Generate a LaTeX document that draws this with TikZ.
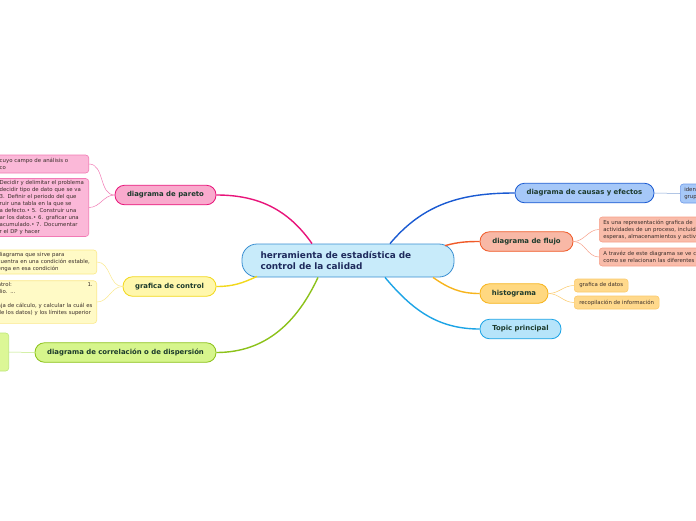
\documentclass[tikz,border=0pt]{standalone}
\usepackage{fontspec}
\setmainfont{DejaVu Sans}
\usepackage{tikz}
\usetikzlibrary{calc}
\definecolor{hubfill}{HTML}{C8EBFA}
\definecolor{hubline}{HTML}{3A8FD2}
\definecolor{hubtext}{HTML}{1E2A5C}
\definecolor{toptext}{HTML}{1C3A2C}
\definecolor{leaftext}{HTML}{3A2E2A}
\definecolor{parline}{HTML}{E8147A}
\definecolor{parfill}{HTML}{F9AACD}
\definecolor{parleaf}{HTML}{FBB8D8}
\definecolor{parleafline}{HTML}{F27AB5}
\definecolor{conline}{HTML}{F2D81C}
\definecolor{confill}{HTML}{FFF7AC}
\definecolor{conleaf}{HTML}{FFFAC6}
\definecolor{conleafline}{HTML}{FBE98A}
\definecolor{corline}{HTML}{8CC21A}
\definecolor{corfill}{HTML}{D6F58C}
\definecolor{corleaf}{HTML}{DCF796}
\definecolor{corleafline}{HTML}{BDE87A}
\definecolor{cauline}{HTML}{1A5AD2}
\definecolor{caufill}{HTML}{A6C8F8}
\definecolor{cauleafline}{HTML}{6F9AE8}
\definecolor{cautwig}{HTML}{8AA8D8}
\definecolor{fluline}{HTML}{F05A28}
\definecolor{flufill}{HTML}{F8B8A6}
\definecolor{fluleaf}{HTML}{F9BCAA}
\definecolor{fluleafline}{HTML}{F7A08A}
\definecolor{hisline}{HTML}{F7B41C}
\definecolor{hisfill}{HTML}{FFD880}
\definecolor{hisleaf}{HTML}{FFD98C}
\definecolor{hisleafline}{HTML}{FCCA6A}
\definecolor{topline}{HTML}{1CA4E6}
\definecolor{topfill}{HTML}{B6E4FA}

\begin{document}
\begin{tikzpicture}[x=1pt,y=1pt,
  hub/.style={draw=hubline, fill=hubfill, line width=0.8pt, rounded corners=15pt, minimum width=212pt, minimum height=33pt, text width=175pt, align=left, font=\fontsize{8.9}{11.5}\selectfont\bfseries, text=hubtext},
  topic/.style={draw, line width=0.8pt, rounded corners=9.5pt, minimum height=19.5pt, inner sep=2pt, font=\fontsize{6.9}{8}\selectfont\bfseries, text=toptext},
  leaf/.style={draw, line width=0.6pt, rounded corners=3pt, inner xsep=4pt, inner ysep=1.5pt, align=left, font=\fontsize{5.4}{7.1}\selectfont, text=leaftext},
  branch/.style={line width=1.4pt},
  twig/.style={line width=0.5pt}]
\useasboundingbox (0,0) rectangle (696,-520);
\fill[white] (0,0) rectangle (696,-520);
\clip (0,0) rectangle (696,-520);

\node[hub] (hub) at (348,-260.5) {herramienta de estadística de\\control de la calidad};

\node[topic, draw=parline, fill=parfill, minimum width=101pt] (pareto) at (165.5,-195) {diagrama de pareto};
\node[topic, draw=conline, fill=confill, minimum width=93pt] (control) at (169.5,-286.5) {grafica de control};
\node[topic, draw=corline, fill=corfill, minimum width=181pt] (correl) at (125.5,-352.5) {diagrama de correlación o de dispersión};
\node[topic, draw=cauline, fill=caufill, minimum width=139pt] (causas) at (584.5,-193) {diagrama de causas y efectos};
\node[topic, draw=fluline, fill=flufill, minimum width=93pt] (flujo) at (526.5,-241.5) {diagrama de flujo};
\node[topic, draw=hisline, fill=hisfill, minimum width=68pt] (histo) at (514,-293.5) {histograma};
\node[topic, draw=topline, fill=topfill, minimum width=81pt] (topic) at (520.5,-329) {Topic principal};

\node[leaf, draw=parleafline, fill=parleaf, text width=85pt, minimum height=18pt, anchor=east] (par1) at (89,-164) {cuyo campo de análisis o\\co};
\node[leaf, draw=parleafline, fill=parleaf, text width=85pt, anchor=east] (par2) at (89,-207.5) {Decidir y delimitar el problema\\decidir tipo de dato que se va\\3. Definir el periodo del que\\ruir una tabla en la que se\\a defecto.• 5. Construir una\\ar los datos.• 6. graficar una\\acumulado.• 7. Documentar\\r el DP y hacer};
\node[leaf, draw=conleafline, fill=conleaf, text width=95pt, minimum height=24pt, anchor=east] (con1) at (97,-262) {diagrama que sirve para\\cuentra en una condición estable,\\enga en esa condición};
\node[leaf, draw=conleafline, fill=conleaf, text width=95pt, anchor=east] (con2) at (97,-302) {ntrol:\hfill 1.\hspace{8pt}\\dio. ...\\\mbox{}\\aja de cálculo, y calcular la cuál es\\de los datos) y los límites superior\\\mbox{}};
\node[leaf, draw=corleafline, fill=corleaf, text width=30pt, minimum height=38pt, anchor=east] (cor1) at (9,-352) {};
\node[leaf, draw=cauleafline, fill=caufill, text width=60pt, minimum height=19pt, anchor=west] (cau1) at (680,-193.5) {iden\\grup};
\node[leaf, draw=fluleafline, fill=fluleaf, text width=120pt, minimum height=25pt, anchor=west] (flu1) at (599,-229.5) {Es una representación grafica de\\actividades de un proceso, incluid\\esperas, almacenamientos y activ};
\node[leaf, draw=fluleafline, fill=fluleaf, text width=120pt, minimum height=18pt, anchor=west] (flu2) at (599,-257) {A travéz de este diagrama se ve c\\como se relacionan las diferentes};
\node[leaf, draw=hisleafline, fill=hisleaf, inner xsep=5pt, minimum height=13pt, anchor=west] (his1) at (574,-285.5) {grafica de datos};
\node[leaf, draw=hisleafline, fill=hisleaf, inner xsep=5pt, minimum height=13pt, anchor=west] (his2) at (574,-302.5) {recopilación de información};

\draw[branch, parline] (pareto.east) to[out=0,in=125] ([xshift=-36pt]hub.north);
\draw[branch, conline] (control.east) to[out=0,in=205] ([xshift=-91pt,yshift=1pt]hub.south);
\draw[branch, corline] (correl.east) to[out=0,in=-115] ([xshift=-30pt]hub.south);
\draw[branch, cauline] ([xshift=42pt]hub.north) to[out=50,in=180] (causas.west);
\draw[branch, fluline] ([xshift=97pt,yshift=-2pt]hub.north) to[out=15,in=180] (flujo.west);
\draw[branch, hisline] ([xshift=85pt]hub.south) to[out=-35,in=180] (histo.west);
\draw[branch, topline] ([xshift=37pt]hub.south) to[out=-50,in=180] (topic.west);

\draw[twig, parleafline] (pareto.west) to[out=180,in=0] (par1.east);
\draw[twig, parleafline] (pareto.west) to[out=180,in=0] (par2.east);
\draw[twig, conleafline] (control.west) to[out=180,in=0] (con1.east);
\draw[twig, conleafline] (control.west) to[out=180,in=0] (con2.east);
\draw[twig, corleafline] (correl.west) -- (cor1.east);
\draw[twig, cautwig] (causas.east) -- (cau1.west);
\draw[twig, fluleafline] (flujo.east) to[out=0,in=180] (flu1.west);
\draw[twig, fluleafline] (flujo.east) to[out=0,in=180] (flu2.west);
\draw[twig, hisleafline] (histo.east) to[out=0,in=180] (his1.west);
\draw[twig, hisleafline] (histo.east) to[out=0,in=180] (his2.west);
\end{tikzpicture}
\end{document}
